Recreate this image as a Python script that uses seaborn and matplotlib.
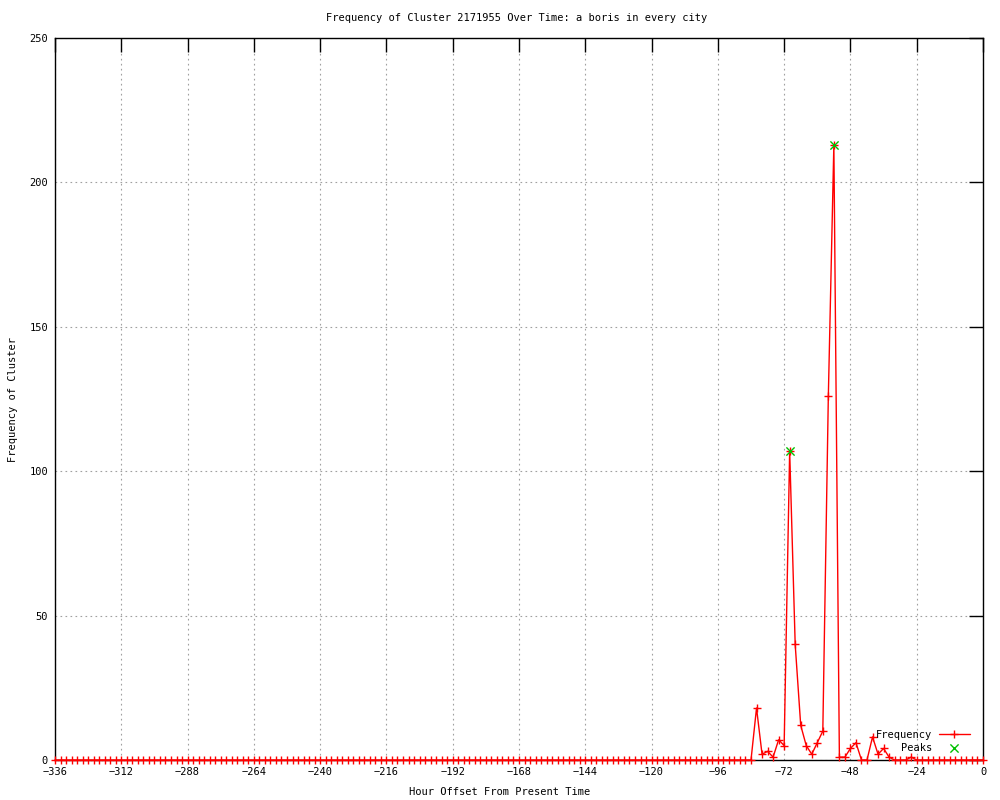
import numpy as np
import pandas as pd
import matplotlib
matplotlib.use("Agg")
import matplotlib.pyplot as plt
import seaborn as sns

# hour offsets, one bin every 2 hours
hours = np.arange(-336, 1, 2)

# frequency per bin (-336 .. 0)
freq = [
    0, 0, 0, 0, 0, 0, 0, 0, 0, 0, 0, 0, 0, 0, 0, 0, 0, 0, 0, 0,
    0, 0, 0, 0, 0, 0, 0, 0, 0, 0, 0, 0, 0, 0, 0, 0, 0, 0, 0, 0,
    0, 0, 0, 0, 0, 0, 0, 0, 0, 0, 0, 0, 0, 0, 0, 0, 0, 0, 0, 0,
    0, 0, 0, 0, 0, 0, 0, 0, 0, 0, 0, 0, 0, 0, 0, 0, 0, 0, 0, 0,
    0, 0, 0, 0, 0, 0, 0, 0, 0, 0, 0, 0, 0, 0, 0, 0, 0, 0, 0, 0,
    0, 0, 0, 0, 0, 0, 0, 0, 0, 0, 0, 0, 0, 0, 0, 0, 0, 0, 0, 0,
    0, 0, 0, 0, 0, 0, 0,                      # up to -84
    18, 2, 3, 1, 7, 5, 107, 40, 12, 5,         # -82 .. -64
    2, 6, 10, 126, 213, 1, 1, 4, 6, 0,         # -62 .. -44
    0, 8, 2, 4, 1, 0, 0, 0, 1,                 # -42 .. -26
    0, 0, 0, 0, 0, 0, 0, 0, 0, 0, 0, 0, 0,     # -24 .. 0
]

peak_hours = [-70, -54]
peak_vals = [107, 213]

xticks = list(range(-336, 1, 24))
yticks = [0, 50, 100, 150, 200, 250]

df = pd.DataFrame({"hour": hours, "freq": freq})
peaks = pd.DataFrame({"hour": peak_hours, "freq": peak_vals})

sns.set_theme(style="white")
plt.rcParams["font.family"] = ["DejaVu Sans Mono"]
plt.rcParams["font.size"] = 7.5
plt.rcParams["text.color"] = "black"

fig = plt.figure(figsize=(10, 8), dpi=100)
ax = fig.add_axes([0.055, 0.05, 0.928, 0.9025])

sns.lineplot(data=df, x="hour", y="freq", color="red", lw=1,
             marker="+", markersize=6, markeredgecolor="red",
             markeredgewidth=1, label="Frequency", ax=ax, zorder=3,
             clip_on=False)
sns.scatterplot(data=peaks, x="hour", y="freq", color="#00c000",
                marker="x", s=35, linewidth=1, label="Peaks", ax=ax, zorder=4)

ax.set_xlim(-336, 0)
ax.set_ylim(0, 250)
ax.set_xticks(xticks)
ax.set_yticks(yticks)
ax.grid(True, color="#a0a0a0", linestyle=(0, (1.5, 3)), linewidth=0.8)
ax.tick_params(direction="in", length=10, width=1, top=True, right=True,
               colors="black", labelsize=7.5, pad=5)
for s in ax.spines.values():
    s.set_color("black")
    s.set_linewidth(1)

ax.set_xlabel("")
ax.set_ylabel("")
fig.text(0.517, 1 - 18 / 800, "Frequency of Cluster 2171955 Over Time: a boris in every city",
         ha="center", va="center", fontsize=7.5, color="black")
fig.text(0.5, 1 - 792 / 800, "Hour Offset From Present Time", ha="center", va="center",
         fontsize=7.5, color="black")
fig.text(0.013, 0.5, "Frequency of Cluster", rotation=90, ha="center", va="center",
         fontsize=7.5, color="black")

leg = ax.legend(loc="lower right", bbox_to_anchor=(0.97, 1 - 753 / 800),
                bbox_transform=fig.transFigure, frameon=False, markerfirst=False,
                handlelength=3, borderaxespad=0, borderpad=0, labelspacing=0.3,
                fontsize=7.5, handletextpad=0.6)
for t in leg.get_texts():
    t.set_color("black")

fig.savefig("out.png", dpi=100, facecolor="white")
